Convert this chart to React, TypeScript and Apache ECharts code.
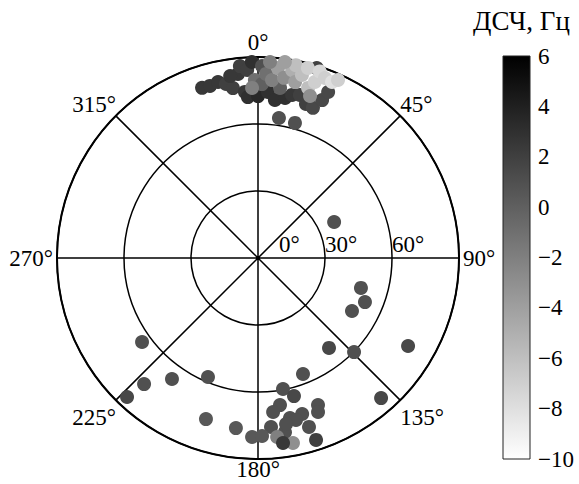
import React, { useEffect, useRef } from "react";
import * as echarts from "echarts";

// Azimuth (deg, clockwise from north), inclination (deg, 0..90), ДСЧ value (Hz)
const azimuth = [
  341.8, 344.4, 347.2, 349.6, 351.6, 353.8, 354.6, 356.7, 358.2, 355.5,
  356.4, 0.0, 351.3, 3.4, 6.1, 9.6, 11.8, 14.4, 17.3, 20.1,
  22.1, 22.9, 17.2, 8.5, 15.3, 359.0, 1.3, 7.4,
  358.0, 1.2, 2.5, 4.5, 6.0, 8.2, 10.3, 11.9, 13.5, 16.4,
  17.8, 11.1, 14.7, 7.8, 3.5, 17.9, 18.3, 20.4, 22.8, 24.2,
  64.7, 106.2, 112.4, 119.4, 120.4, 141.7, 134.4, 138.7,
  158.8, 169.2, 165.4, 157.8, 158.7, 171.5, 174.4, 168.7, 164.2, 163.2,
  175.6, 181.9, 178.7, 162.3, 171.2, 166.8, 170.4, 187.4, 197.9, 202.8,
  215.4, 222.1, 223.3, 234.1, 173.9, 169.3, 172.3,
];
const inclination = [
  80.2, 80.0, 80.8, 79.2, 76.9, 82.9, 86.3, 84.3, 87.8, 74.6,
  72.2, 72.5, 82.4, 74.5, 71.2, 72.7, 74.6, 75.4, 72.2, 71.6,
  76.3, 80.7, 89.0, 63.4, 62.7, 79.7, 77.9, 76.8,
  76.2, 86.0, 82.5, 79.9, 85.5, 81.5, 85.5, 80.5, 84.3, 79.4,
  76.2, 88.0, 88.0, 88.6, 87.9, 82.8, 88.0, 86.0, 85.5, 87.4,
  37.7, 48.0, 51.8, 48.3, 77.9, 51.3, 60.2, 83.5,
  55.7, 59.7, 63.9, 71.1, 74.0, 66.6, 69.3, 73.1, 72.6, 79.0,
  75.9, 80.2, 79.7, 85.5, 78.9, 74.5, 75.4, 76.8, 75.8, 57.8,
  66.5, 76.1, 85.5, 64.1, 80.6, 84.3, 83.6,
];
const dsc = [
  2.5, 2.5, 2.5, 2.0, 2.0, 2.5, 2.0, 2.0, 3.0, 2.5,
  3.0, 3.5, 2.5, 3.0, 3.0, 3.0, 2.5, 2.0, 2.0, 1.5,
  1.5, 1.5, 2.0, 1.0, 1.0, -1.0, 0.0, 0.0,
  -2.0, 1.0, -1.0, -2.0, -4.0, -3.0, -5.0, -4.0, -6.0, -6.0,
  -3.0, -6.0, -7.0, -4.0, -2.0, -7.0, -7.5, -7.0, -8.0, -7.0,
  1.0, 1.0, 1.0, 1.0, 1.5, 1.5, 1.0, 1.5,
  1.0, 1.0, 1.5, 1.0, 1.0, 1.0, 1.0, 1.0, 1.0, 1.0,
  1.0, 0.5, 0.5, 2.0, 1.0, 1.0, 1.0, 0.5, 0.5, 1.0,
  1.0, 1.0, 1.5, 1.0, -2.0, -3.0, 2.5,
];

const angleTicks = [0, 45, 90, 135, 180, 225, 270, 315];
const radiusTicks = [0, 30, 60, 90];
const colorMin = -10;
const colorMax = 6;
const colorStep = 2;
const colorTitle = "ДСЧ, Гц";

const FONT = "'Liberation Serif', 'Times New Roman', serif";

const labelStyle = (padding: number[], lineHeight?: number) => ({
  fontFamily: FONT,
  fontSize: 23,
  color: "#000",
  padding,
  ...(lineHeight ? { lineHeight } : {}),
});

export default function App() {
  const ref = useRef<HTMLDivElement>(null);
  useEffect(() => {
    document.body.style.margin = "0";
    const chart = echarts.init(ref.current!, undefined, { renderer: "svg" });
    const data = azimuth.map((a, i) => [inclination[i], (a + 270) % 360, dsc[i]]);
    const richKey: Record<number, string> = {
      0: "n", 45: "d", 90: "e", 135: "b", 180: "s", 225: "b", 270: "w", 315: "d",
    };
    chart.setOption({
      animation: false,
      backgroundColor: "#ffffff",
      title: {
        text: colorTitle,
        left: 468,
        top: 2,
        textStyle: { fontFamily: FONT, fontSize: 27, fontWeight: "normal", color: "#000" },
      },
      polar: { center: [258, 258], radius: 201 },
      angleAxis: {
        type: "value",
        min: 0,
        max: 360,
        interval: 45,
        startAngle: 0,
        clockwise: true,
        axisLine: { show: true, lineStyle: { color: "#000", width: 2 } },
        axisTick: { show: false },
        splitLine: { show: true, lineStyle: { color: "#000", width: 1.5 } },
        axisLabel: {
          margin: 0,
          fontFamily: FONT,
          fontSize: 23,
          color: "#000",
          formatter: (v: number) => {
            if (v >= 360) return "";
            const az = (v + 90) % 360;
            return angleTicks.includes(az) ? "{" + richKey[az] + "|" + az + "°}" : "";
          },
          rich: {
            n: labelStyle([0, 0, 3, 0]),
            s: labelStyle([1, 0, 0, 0], 20),
            e: labelStyle([0, 0, 0, 4]),
            w: labelStyle([0, 4, 0, 0]),
            d: labelStyle([0, 0, 0, 0]),
            b: labelStyle([6, 0, 0, 0]),
          },
        },
      },
      radiusAxis: {
        type: "value",
        min: radiusTicks[0],
        max: radiusTicks[radiusTicks.length - 1],
        interval: 30,
        axisLine: { show: false },
        axisTick: { show: false },
        splitLine: { show: true, lineStyle: { color: "#000", width: 1.5 } },
        axisLabel: {
          fontFamily: FONT,
          fontSize: 23,
          color: "#000",
          align: "left",
          margin: 2,
          formatter: (v: number) => (v === 90 ? "" : v === 0 ? "{z|" + v + "°}" : v + "°"),
          rich: { z: { fontFamily: FONT, fontSize: 23, color: "#000", padding: [0, 0, 0, 21] } },
        },
      },
      grid: { left: 503, top: 56, width: 27, height: 403 },
      xAxis: { type: "category", data: ["c"], show: false },
      yAxis: {
        type: "value",
        min: colorMin,
        max: colorMax,
        interval: colorStep,
        position: "right",
        axisLine: { show: false },
        axisTick: { show: false },
        splitLine: { show: false },
        axisLabel: {
          margin: 8,
          fontFamily: FONT,
          fontSize: 23,
          color: "#000",
          formatter: (v: number) => (v < 0 ? "−" + Math.abs(v) : String(v)),
        },
      },
      visualMap: {
        type: "continuous",
        show: false,
        min: colorMin,
        max: colorMax,
        dimension: 2,
        seriesIndex: 0,
        inRange: { color: ["#ffffff", "#000000"] },
      },
      series: [
        {
          type: "scatter",
          coordinateSystem: "polar",
          symbol: "circle",
          symbolSize: 14,
          data,
          itemStyle: { opacity: 1 },
        },
        {
          type: "custom",
          xAxisIndex: 0,
          yAxisIndex: 0,
          data: [[0, colorMin, colorMax]],
          renderItem: (params: any, api: any) => {
            const top = api.coord([api.value(0), api.value(2)]);
            const bot = api.coord([api.value(0), api.value(1)]);
            const w = api.size([1, 0])[0];
            return {
              type: "rect",
              shape: { x: top[0] - w / 2, y: top[1], width: w, height: bot[1] - top[1] },
              style: {
                fill: new echarts.graphic.LinearGradient(0, 0, 0, 1, [
                  { offset: 0, color: "#000000" },
                  { offset: 1, color: "#ffffff" },
                ]),
                stroke: "#222",
                lineWidth: 1,
              },
            };
          },
        },
      ],
    });
    return () => chart.dispose();
  }, []);
  return <div ref={ref} style={{ width: 579, height: 484 }} />;
}
